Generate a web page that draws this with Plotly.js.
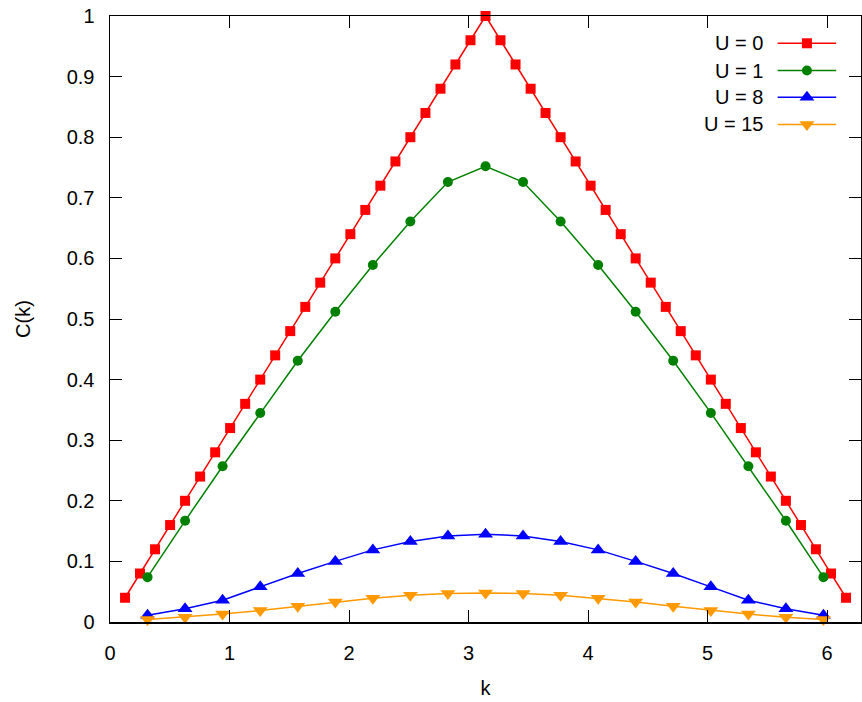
<!DOCTYPE html>
<html>
<head>
<meta charset="utf-8">
<script src="https://cdn.plot.ly/plotly-3.0.1.min.js"></script>
<style>
  html, body { margin: 0; padding: 0; background: #fff; }
  #chart { width: 862px; height: 702px; }
</style>
</head>
<body>
<div id="chart"></div>
<script>
// k grid for U = 0 (50 sites) and for the other runs (20 sites)
let k50 = [0.126, 0.251, 0.377, 0.503, 0.628, 0.754, 0.880, 1.005, 1.131, 1.257,
           1.382, 1.508, 1.634, 1.759, 1.885, 2.011, 2.136, 2.262, 2.388, 2.513,
           2.639, 2.765, 2.890, 3.016, 3.142, 3.267, 3.393, 3.519, 3.644, 3.770,
           3.896, 4.021, 4.147, 4.273, 4.398, 4.524, 4.650, 4.775, 4.901, 5.027,
           5.152, 5.278, 5.404, 5.529, 5.655, 5.781, 5.906, 6.032, 6.158];
let k20 = [0.314, 0.628, 0.942, 1.257, 1.571, 1.885, 2.199, 2.513, 2.827, 3.142,
           3.456, 3.770, 4.084, 4.398, 4.712, 5.027, 5.341, 5.655, 5.969];

let cU0 = [0.04, 0.08, 0.12, 0.16, 0.20, 0.24, 0.28, 0.32, 0.36, 0.40,
           0.44, 0.48, 0.52, 0.56, 0.60, 0.64, 0.68, 0.72, 0.76, 0.80,
           0.84, 0.88, 0.92, 0.96, 1.00, 0.96, 0.92, 0.88, 0.84, 0.80,
           0.76, 0.72, 0.68, 0.64, 0.60, 0.56, 0.52, 0.48, 0.44, 0.40,
           0.36, 0.32, 0.28, 0.24, 0.20, 0.16, 0.12, 0.08, 0.04];
let cU1 = [0.074, 0.167, 0.257, 0.345, 0.431, 0.512, 0.589, 0.661, 0.726, 0.752,
           0.726, 0.661, 0.589, 0.512, 0.431, 0.345, 0.257, 0.167, 0.074];
let cU8 = [0.011, 0.022, 0.036, 0.058, 0.080, 0.100, 0.119, 0.133, 0.142, 0.145,
           0.142, 0.133, 0.119, 0.100, 0.080, 0.058, 0.036, 0.022, 0.011];
let cU15 = [0.004, 0.008, 0.013, 0.019, 0.026, 0.033, 0.039, 0.044, 0.047, 0.048,
            0.047, 0.044, 0.039, 0.033, 0.026, 0.019, 0.013, 0.008, 0.004];

let seriesNames = ['U = 0', 'U = 1', 'U = 8', 'U = 15'];
let seriesColors = ['#ff0000', '#008000', '#0000ff', '#ff9900'];
let seriesSymbols = ['square', 'circle', 'triangle-up', 'triangle-down'];
let seriesSizes = [10, 10, 13, 13];
let seriesX = [k50, k20, k20, k20];
let seriesY = [cU0, cU1, cU8, cU15];

let font = { family: 'Liberation Sans, Arial, sans-serif', size: 20, color: '#000' };

let traces = seriesNames.map((name, i) => ({
    x: seriesX[i],
    y: seriesY[i],
    mode: 'lines+markers',
    name: name,
    showlegend: false,
    cliponaxis: false,
    line: { color: seriesColors[i], width: 1.5 },
    marker: { symbol: seriesSymbols[i], size: seriesSizes[i], color: seriesColors[i] }
}));

// gnuplot-style key: text on the left, sample on the right (drawn on a 0..1 overlay axis)
let keyRows = [0.955, 0.910, 0.866, 0.821];
let keyLine = [0.889, 0.967];
let keyMark = 0.928;
let annotations = [];
seriesNames.forEach((name, i) => {
    traces.push({
        x: keyLine,
        y: [keyRows[i], keyRows[i]],
        xaxis: 'x2', yaxis: 'y2',
        mode: 'lines',
        showlegend: false,
        hoverinfo: 'skip',
        line: { color: seriesColors[i], width: 1.5 }
    });
    traces.push({
        x: [keyMark],
        y: [keyRows[i]],
        xaxis: 'x2', yaxis: 'y2',
        mode: 'markers',
        showlegend: false,
        hoverinfo: 'skip',
        marker: { symbol: seriesSymbols[i], size: seriesSizes[i], color: seriesColors[i] }
    });
    annotations.push({
        text: name, xref: 'paper', yref: 'paper',
        x: 0.872, y: keyRows[i], xanchor: 'right', yanchor: 'middle',
        showarrow: false, font: font
    });
});

// y axis title placed like gnuplot's ylabel
annotations.push({
    text: 'C(k)', xref: 'paper', yref: 'paper',
    x: -0.116, y: 0.5, xanchor: 'center', yanchor: 'middle',
    textangle: -90, showarrow: false, font: font
});

let axisCommon = {
    showgrid: false, zeroline: false,
    showline: true, linecolor: '#000', linewidth: 1.5,
    mirror: 'ticks', ticks: 'inside', ticklen: 12, tickwidth: 1, tickcolor: '#000',
    tickfont: font
};

let layout = {
    width: 862, height: 702,
    margin: { l: 110, r: 1, t: 16, b: 80 },
    paper_bgcolor: '#fff', plot_bgcolor: '#fff',
    font: font,
    showlegend: false,
    xaxis: Object.assign({}, axisCommon, {
        range: [0, 6.2832], dtick: 1, tick0: 0,
        ticklabelstandoff: 12,
        title: { text: 'k', font: font, standoff: 18 }
    }),
    yaxis: Object.assign({}, axisCommon, {
        range: [0, 1], dtick: 0.1, tick0: 0,
        ticklabelstandoff: 10
    }),
    xaxis2: { overlaying: 'x', range: [0, 1], visible: false, fixedrange: true },
    yaxis2: { overlaying: 'y', range: [0, 1], visible: false, fixedrange: true },
    annotations: annotations
};

Plotly.newPlot('chart', traces, layout, { displayModeBar: false, staticPlot: true });
</script>
</body>
</html>
